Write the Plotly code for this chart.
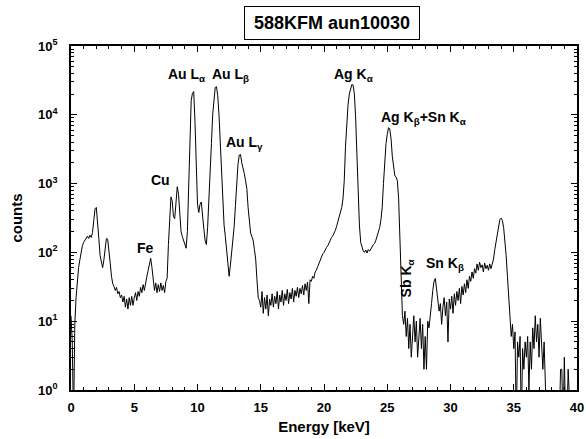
import plotly.graph_objects as go

# Spectrum: counts per 0.1 keV channel, starting at 0.0 keV (0 = no counts)
E_START = 0.0
E_STEP = 0.1
counts = [
    # 0.0 - 0.9
    12, 5, 0, 9, 22, 42, 60, 78, 100, 125,
    # 1.0 - 1.9
    140, 150, 162, 172, 160, 178, 165, 195, 290, 430,
    # 2.0 - 2.9
    450, 300, 160, 90, 70, 60, 78, 120, 160, 155,
    # 3.0 - 3.9
    110, 70, 45, 35, 32, 28, 31, 25, 27, 22,
    # 4.0 - 4.9
    24, 19, 23, 16, 21, 15, 22, 17, 23, 17,
    # 5.0 - 5.9
    22, 26, 20, 27, 23, 31, 26, 34, 28, 38,
    # 6.0 - 6.9
    45, 55, 68, 82, 60, 35, 28, 36, 26, 34,
    # 7.0 - 7.9
    27, 36, 28, 33, 26, 38, 42, 130, 390, 640,
    # 8.0 - 8.9
    560, 330, 310, 650, 900, 700, 350, 200, 170, 150,
    # 9.0 - 9.9
    125, 115, 200, 1200, 6500, 16000, 20500, 21800, 8000, 1500,
    # 10.0 - 10.9
    500, 380, 500, 540, 380, 220, 150, 130, 230, 700,
    # 11.0 - 11.9
    1400, 3800, 10000, 18000, 25000, 25600, 19000, 10000, 3500, 1200,
    # 12.0 - 12.9
    450, 250, 170, 110, 80, 45, 65, 100, 160, 240,
    # 13.0 - 13.9
    480, 1000, 1900, 2600, 2650, 2000, 1700, 1400, 1100, 850,
    # 14.0 - 14.9
    450, 280, 190, 170, 150, 110, 80, 40, 22, 20,
    # 15.0 - 15.9
    16, 27, 13, 22, 15, 24, 12, 21, 17, 25,
    # 16.0 - 16.9
    16, 23, 18, 27, 15, 24, 19, 28, 17, 25,
    # 17.0 - 17.9
    20, 29, 18, 26, 21, 30, 19, 28, 23, 31,
    # 18.0 - 18.9
    22, 30, 25, 33, 24, 35, 28, 37, 18, 40,
    # 19.0 - 19.9
    38, 45, 42, 52, 55, 62, 70, 78, 85, 95,
    # 20.0 - 20.9
    100, 110, 118, 125, 140, 150, 165, 175, 190, 210,
    # 21.0 - 21.9
    240, 280, 320, 380, 450, 600, 1100, 3500, 8000, 14000,
    # 22.0 - 22.9
    20000, 25000, 27500, 27000, 20000, 9000, 2200, 800, 250, 140,
    # 23.0 - 23.9
    115, 105, 100, 108, 98, 110, 104, 115, 120, 130,
    # 24.0 - 24.9
    135, 150, 170, 195, 230, 300, 450, 1000, 2200, 3800,
    # 25.0 - 25.9
    5200, 6500, 6200, 4500, 2500, 1600, 1300, 1250, 1100, 600,
    # 26.0 - 26.9
    200, 40, 12, 9, 14, 6, 11, 4, 9, 3,
    # 27.0 - 27.9
    8, 12, 5, 10, 3, 7, 11, 4, 9, 2,
    # 28.0 - 28.9
    6, 2, 10, 8, 14, 18, 28, 38, 42, 30,
    # 29.0 - 29.9
    20, 14, 18, 9, 16, 22, 12, 19, 5, 21,
    # 30.0 - 30.9
    15, 23, 13, 25, 17, 27, 20, 30, 18, 32,
    # 31.0 - 31.9
    24, 35, 26, 40, 30, 45, 38, 52, 42, 58,
    # 32.0 - 32.9
    50, 68, 55, 72, 60, 66, 52, 70, 58, 65,
    # 33.0 - 33.9
    55, 68, 58, 70, 80, 110, 145, 200, 260, 300,
    # 34.0 - 34.9
    315, 290, 230, 160, 90, 45, 22, 10, 6, 9,
    # 35.0 - 35.9
    4, 7, 0, 5, 3, 6, 0, 4, 2, 5,
    # 36.0 - 36.9
    3, 6, 1, 5, 2, 8, 4, 12, 5, 9,
    # 37.0 - 37.9
    3, 11, 4, 2, 5, 1, 0, 0, 0, 0,
    # 38.0 - 38.9
    0, 0, 0, 0, 0, 0, 0, 2, 2, 0,
    # 39.0 - 40.0
    3, 0, 0, 2, 0, 0, 0, 0, 0, 0, 0,
]

x_tick_vals = [0, 5, 10, 15, 20, 25, 30, 35, 40]
x_tick_labels = ["0", "5", "10", "15", "20", "25", "30", "35", "40"]
y_decades = [0, 1, 2, 3, 4, 5]
y_tick_labels = ["10<sup>0</sup>", "10<sup>1</sup>", "10<sup>2</sup>",
                 "10<sup>3</sup>", "10<sup>4</sup>", "10<sup>5</sup>"]

peak_labels = ["Au L<sub>α</sub>", "Au L<sub>β</sub>", "Ag K<sub>α</sub>",
               "Ag K<sub>β</sub>+Sn K<sub>α</sub>", "Au L<sub>γ</sub>",
               "Cu", "Fe", "Sn K<sub>β</sub>"]
peak_label_x = [9.1, 12.6, 22.3, 27.85, 13.75, 7.1, 5.9, 29.6]
peak_label_logy = [4.58, 4.58, 4.58, 3.96, 3.59, 3.05, 2.07, 1.83]

FONT = "Liberation Sans"

# zero-count channels are drawn down to the bottom edge (below the axis range)
y_plot = [c if c > 0 else 0.3 for c in counts]

fig = go.Figure()
fig.add_trace(go.Scatter(
    x0=E_START, dx=E_STEP, y=y_plot, mode="lines",
    line=dict(color="black", width=1), showlegend=False,
    hoverinfo="skip",
))

minor_y = [d * 10 ** k for k in range(0, 5) for d in range(2, 10)]


def bold(s):
    return "<b>" + s + "</b>"


fig.update_layout(
    width=586, height=439,
    margin=dict(l=71, r=9, t=46, b=49, autoexpand=False),
    paper_bgcolor="white", plot_bgcolor="white",
    font=dict(family=FONT, color="black"),
    xaxis=dict(
        range=[0, 40], tickvals=x_tick_vals,
        ticktext=[bold(t) for t in x_tick_labels],
        ticks="inside", ticklen=6,
        tickwidth=1.3, tickcolor="black", automargin=False,
        ticklabelstandoff=5,
        showline=True, linecolor="black", linewidth=1.5, mirror="allticks",
        showgrid=False, zeroline=False,
        tickfont=dict(family=FONT, size=13),
        minor=dict(dtick=1, ticks="inside", ticklen=3, tickcolor="black",
                   tickwidth=1.2, showgrid=False),
        title=dict(text=bold("Energy [keV]"), standoff=7,
                   font=dict(family=FONT, size=15)),
    ),
    yaxis=dict(
        type="log", range=[0, 5],
        tickvals=[10 ** d for d in y_decades],
        ticktext=[bold(t) for t in y_tick_labels],
        ticks="inside", ticklen=6, tickwidth=1.3, tickcolor="black",
        automargin=False, ticklabelstandoff=9,
        showline=True, linecolor="black", linewidth=1.5, mirror="allticks",
        showgrid=False, zeroline=False,
        tickfont=dict(family=FONT, size=13),
        minor=dict(tickvals=minor_y, ticks="inside", ticklen=3,
                   tickcolor="black", tickwidth=1, showgrid=False),
        title=dict(text=bold("counts"), standoff=12,
                   font=dict(family=FONT, size=15)),
    ),
)

# title box
fig.add_annotation(
    text=bold("588KFM aun10030"), xref="paper", yref="paper", x=0.516, y=1.067,
    xanchor="center", yanchor="middle", showarrow=False,
    font=dict(family=FONT, size=18),
    width=164, height=22,
    bordercolor="black", borderwidth=1, borderpad=5, bgcolor="white",
)

for txt, ex, ly in zip(peak_labels, peak_label_x, peak_label_logy):
    fig.add_annotation(
        text=bold(txt), x=ex, y=ly, xref="x", yref="y", showarrow=False,
        xanchor="center", yanchor="middle",
        font=dict(family=FONT, size=14),
    )

fig.add_annotation(
    text=bold("Sb K<sub>α</sub>"), x=26.55, y=1.62, xref="x", yref="y",
    showarrow=False, textangle=-90, xanchor="center", yanchor="middle",
    font=dict(family=FONT, size=14),
)

fig.write_html(
    "out.html",
    config={"displayModeBar": False},
    post_script="document.body.style.margin='0';document.body.style.overflow='hidden';",
)
